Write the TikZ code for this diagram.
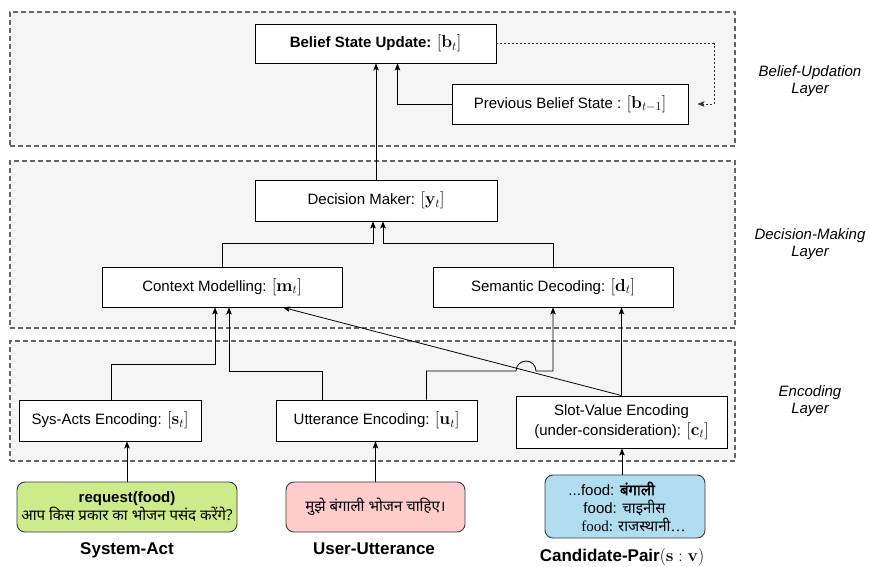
\documentclass[tikz,border=0pt]{standalone}
\usepackage{fix-cm}
\usepackage[no-math]{fontspec}
\setmainfont{Liberation Sans}
\newfontfamily\hindi[Script=Devanagari]{Noto Sans}
\newfontfamily\hindibold[Script=Devanagari, FakeBold=2]{Noto Sans}
\newfontfamily\seriffont{Liberation Serif}
\usetikzlibrary{arrows.meta}

% state vectors are typeset a little larger than the surrounding text
\newcommand{\vecsym}[1]{{\fontsize{17.28}{18}\selectfont$#1$}}

\definecolor{layerfill}{HTML}{F5F5F5}
\definecolor{layerdraw}{HTML}{666666}
\definecolor{actgreen}{HTML}{CDEB8B}
\definecolor{uttpink}{HTML}{FFCCCC}
\definecolor{candblue}{HTML}{B1DDF0}
\definecolor{edgegray}{HTML}{36393D}

\begin{document}
\begin{tikzpicture}[x=1pt,y=-1pt,
  every node/.style={font=\fontsize{15}{18}\selectfont, inner sep=0pt},
  layer/.style={draw=layerdraw, fill=layerfill, line width=1.3pt, dash pattern=on 5pt off 3pt},
  block/.style={draw=black, fill=white, line width=0.9pt, align=center},
  inputbox/.style={draw=edgegray, rounded corners=8pt, line width=0.9pt, align=center},
  caption/.style={font=\fontsize{17}{20}\selectfont\bfseries},
  layername/.style={font=\fontsize{15}{17}\selectfont\itshape, align=center},
  link/.style={draw=black, line width=0.8pt, -{Stealth[length=7pt,width=5.5pt,inset=1.5pt]}},
  feedback/.style={link, draw=black!80, dash pattern=on 2pt off 2pt},
]
\path[use as bounding box] (0,0) rectangle (869,566);

% layers
\node[layer, minimum width=725pt, minimum height=134pt] (L1) at (372.5,79) {};
\node[layer, minimum width=725pt, minimum height=167pt] (L2) at (372.5,244.5) {};
\node[layer, minimum width=725pt, minimum height=120pt] (L3) at (372.5,401) {};

\node[layername] (N1) at (810,81) {Belief-Updation\\Layer};
\node[layername] (N2) at (810,244) {Decision-Making\\Layer};
\node[layername] (N3) at (810,401) {Encoding\\Layer};

% blocks
\node[block, minimum width=241pt, minimum height=39pt] (bsu) at (375.5,43.5) {\textbf{Belief State Update:} \vecsym{[\mathbf{b}_t]}};
\node[block, minimum width=236pt, minimum height=40pt] (pbs) at (570,104) {Previous Belief State : \vecsym{[\mathbf{b}_{t-1}]}};
\node[block, minimum width=242pt, minimum height=41pt] (dm) at (376,200.5) {Decision Maker: \vecsym{[\mathbf{y}_t]}};
\node[block, minimum width=240pt, minimum height=40pt] (cm) at (222,287) {Context Modelling: \vecsym{[\mathbf{m}_t]}};
\node[block, minimum width=240pt, minimum height=40pt] (sd) at (553,287) {Semantic Decoding: \vecsym{[\mathbf{d}_t]}};
\node[block, minimum width=182pt, minimum height=41pt] (sae) at (110,420.5) {Sys-Acts Encoding: \vecsym{[\mathbf{s}_t]}};
\node[block, minimum width=201pt, minimum height=41pt] (ue) at (376.5,420.5) {Utterance Encoding: \vecsym{[\mathbf{u}_t]}};
\node[block, minimum width=211pt, minimum height=52pt, font=\fontsize{15}{19.5}\selectfont] (sve) at (621.5,422) {Slot-Value Encoding\\(under-consideration): \vecsym{[\mathbf{c}_t]}};

% inputs
\node[inputbox, fill=actgreen, minimum width=220pt, minimum height=50pt] (sys) at (127,507)
  {\textbf{request(food)}\\{\hindi आप किस प्रकार का भोजन पसंद करेंगे?}};
\node[inputbox, fill=uttpink, minimum width=179pt, minimum height=50pt] (usr) at (375.5,507)
  {\hindi मुझे बंगाली भोजन चाहिए।};
\node[inputbox, fill=candblue, minimum width=160pt, minimum height=63pt, align=left] (cand) at (625,506.5)
  {\hspace*{4pt}...food: {\hindibold बंगाली}\\\hspace*{19pt}food: {\hindi चाइनीस}\\\hspace*{17pt}{\seriffont food: }{\hindi राजस्थानी}{\seriffont …}};

\node[caption] (capA) at (127,550) {System-Act};
\node[caption] (capB) at (374,549) {User-Utterance};
\node[caption] (capC) at (622,557) {Candidate-Pair\vecsym{(\mathbf{s}:\mathbf{v})}};

% anchor points for the connectors
\coordinate (dmL) at ([xshift=-3pt]dm.south);
\coordinate (dmR) at ([xshift=7pt]dm.south);
\coordinate (cmL) at ([xshift=-7pt]cm.south);
\coordinate (cmR) at ([xshift=7pt]cm.south);
\coordinate (cmD) at ([xshift=61pt]cm.south);
\coordinate (bsuR) at ([xshift=22pt]bsu.south);
\coordinate (fbTurn) at (714,0);
\coordinate (fbEnd) at ([xshift=9pt]pbs.east);
\coordinate (mergeDM) at (0,243);
\coordinate (mergeSA) at (0,364);
\coordinate (mergeUE) at (0,371);
\coordinate (jump) at (516,371);
\coordinate (ueL) at ([xshift=-54pt]ue.north);
\coordinate (ueR) at ([xshift=50pt]ue.north);
\coordinate (saeT) at ([xshift=1pt]sae.north);
\coordinate (candT) at ([xshift=-3pt]cand.north);

% belief update
\draw[link] (dm.north) -- (dm.north |- bsu.south);
\draw[link] (pbs.west) -| (bsuR);
\draw[feedback] (bsu.east) -| (fbTurn |- pbs.east) -- (fbEnd);

% decision making
\draw[link] (cm.north) |- (dmL |- mergeDM) -- (dmL);
\draw[link] (sd.north) |- (dmR |- mergeDM) -- (dmR);

% encoding
\draw[link] (saeT) |- (cmL |- mergeSA) -- (cmL);
\draw[link] (ueL) |- (cmR |- mergeUE) -- (cmR);
\draw[link] (ueR) |- (jump) arc[start angle=180, end angle=0, radius=10pt] -- (sd.south |- mergeUE) -- (sd.south);
\draw[link] (sve.north) -- (cmD);
\draw[link] (sve.north) -- (sve.north |- sd.south);

% inputs
\draw[link] (sys.north) -- (sys.north |- sae.south);
\draw[link] (usr.north) -- (usr.north |- ue.south);
\draw[link] (candT) -- (candT |- sve.south);
\end{tikzpicture}
\end{document}
